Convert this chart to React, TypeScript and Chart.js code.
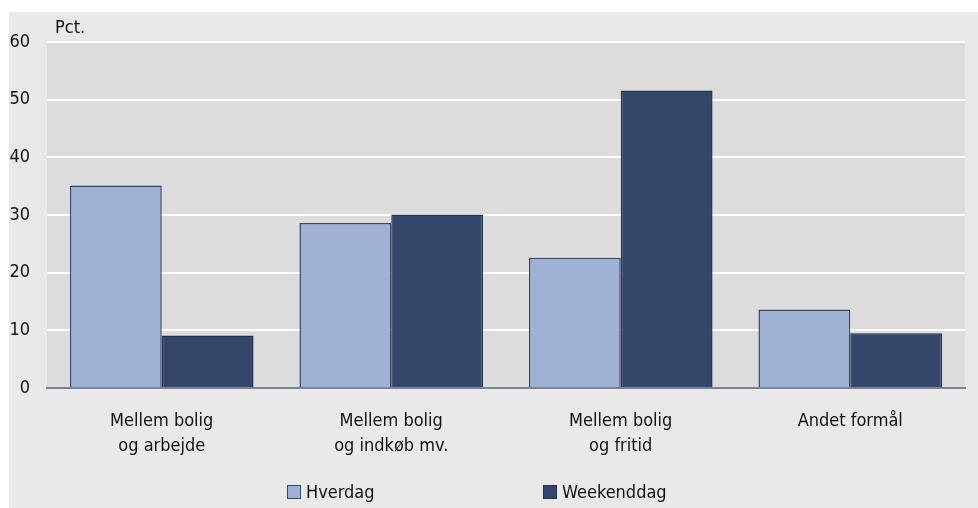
import React, { useEffect, useRef } from "react";
import { Chart, registerables } from "chart.js";

Chart.register(...registerables);

// Travel purpose categories (two-line labels)
const categories: string[][] = [
  ["Mellem bolig", "og arbejde"],
  ["Mellem bolig", "og indkøb mv."],
  ["Mellem bolig", "og fritid"],
  ["Andet formål"],
];

const seriesNames = ["Hverdag", "Weekenddag"];
const hverdag = [35.1, 28.6, 22.6, 13.6];
const weekenddag = [9.1, 30.1, 51.6, 9.5];

const yMin = 0;
const yMax = 60;
const yStep = 10;
const yUnit = "Pct.";

const FONT = "'DejaVu Sans Condensed', 'DejaVu Sans', sans-serif";
const COLORS = {
  panel: "#e9e9e9",
  plot: "#dcdcdc",
  light: "#9fb1d5",
  lightBorder: "#34476b",
  dark: "#34476b",
  darkBorder: "#22334f",
  axis: "#7a8497",
  text: "#111111",
};

// Fills the plot area, writes the unit label and a custom legend row
const decorPlugin = {
  id: "decor",
  beforeDraw(chart: any) {
    const { ctx, chartArea } = chart;
    ctx.save();
    ctx.fillStyle = COLORS.plot;
    ctx.fillRect(
      chartArea.left,
      chartArea.top,
      chartArea.right - chartArea.left,
      chartArea.bottom - chartArea.top
    );
    ctx.restore();
  },
  afterDraw(chart: any) {
    const { ctx, chartArea } = chart;
    ctx.save();
    ctx.font = `18px ${FONT}`;
    ctx.fillStyle = COLORS.text;
    ctx.textBaseline = "alphabetic";
    ctx.textAlign = "left";
    ctx.fillText(yUnit, chartArea.left + 8, chartArea.top - 9);

    // legend
    const legendX = [278, 534];
    const boxY = 473;
    chart.data.datasets.forEach((ds: any, i: number) => {
      const x = legendX[i];
      ctx.fillStyle = ds.backgroundColor;
      ctx.fillRect(x, boxY, 14, 14);
      ctx.strokeStyle = ds.borderColor;
      ctx.lineWidth = 1;
      ctx.strokeRect(x + 0.5, boxY + 0.5, 13, 13);
      ctx.fillStyle = COLORS.text;
      ctx.textBaseline = "middle";
      ctx.fillText(ds.label, x + 19, boxY + 8);
    });
    ctx.restore();
  },
};

export default function App() {
  const canvasRef = useRef<HTMLCanvasElement | null>(null);

  useEffect(() => {
    document.body.style.margin = "0";
    const canvas = canvasRef.current;
    if (!canvas) return;
    const chart = new Chart(canvas, {
      type: "bar",
      data: {
        labels: categories,
        datasets: [
          {
            label: seriesNames[0],
            data: hverdag,
            backgroundColor: COLORS.light,
            borderColor: COLORS.lightBorder,
            borderWidth: 1.5,
            categoryPercentage: 0.8,
            barPercentage: 1.0,
          },
          {
            label: seriesNames[1],
            data: weekenddag,
            backgroundColor: COLORS.dark,
            borderColor: COLORS.darkBorder,
            borderWidth: 1.5,
            categoryPercentage: 0.8,
            barPercentage: 1.0,
          },
        ],
      },
      options: {
        responsive: false,
        animation: false,
        devicePixelRatio: 1,
        layout: { padding: { top: 30, right: 13, bottom: 0, left: 0 } },
        plugins: {
          legend: { display: false },
          tooltip: { enabled: false },
          title: { display: false },
        },
        scales: {
          x: {
            grid: { display: false, drawTicks: false },
            border: { display: true, color: COLORS.axis, width: 2 },
            ticks: {
              color: COLORS.text,
              font: { family: FONT, size: 18, lineHeight: 25 / 18 },
              padding: 21,
              maxRotation: 0,
              autoSkip: false,
            },
            afterFit: (scale: any) => {
              scale.height = 120;
            },
          },
          y: {
            min: yMin,
            max: yMax,
            ticks: {
              stepSize: yStep,
              color: COLORS.text,
              font: { family: FONT, size: 18 },
              padding: 17,
            },
            grid: {
              drawTicks: false,
              lineWidth: 2,
              color: (c: any) => (c.tick && c.tick.value === 0 ? "rgba(0,0,0,0)" : "#ffffff"),
            },
            border: { display: false },
            afterFit: (scale: any) => {
              scale.width = 38;
            },
          },
        },
      },
      plugins: [decorPlugin],
    });
    return () => chart.destroy();
  }, []);

  return (
    <div
      style={{
        position: "relative",
        width: 978,
        height: 508,
        background: "#ffffff",
        overflow: "hidden",
      }}
    >
      <div
        style={{
          position: "absolute",
          left: 9,
          top: 12,
          width: 969,
          height: 496,
          background: COLORS.panel,
        }}
      >
        <canvas ref={canvasRef} width={969} height={496} style={{ display: "block" }} />
      </div>
    </div>
  );
}
